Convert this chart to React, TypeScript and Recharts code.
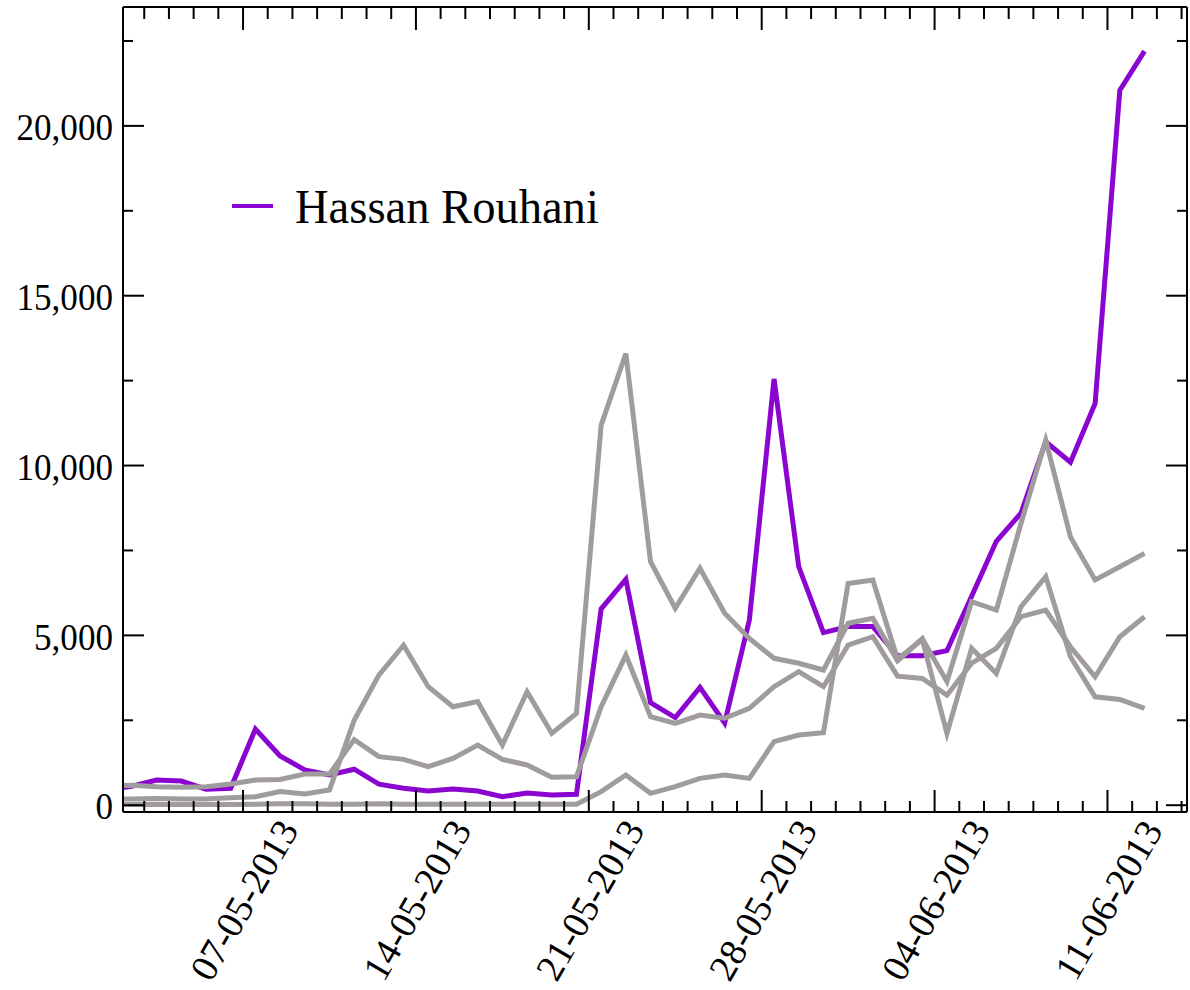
import React from 'react';
import { LineChart, Line, XAxis, YAxis } from 'recharts';

// one value per day, 01-05-2013 .. 12-06-2013
const dates = [
  '01-05-2013', '02-05-2013', '03-05-2013', '04-05-2013', '05-05-2013', '06-05-2013', '07-05-2013',
  '08-05-2013', '09-05-2013', '10-05-2013', '11-05-2013', '12-05-2013', '13-05-2013', '14-05-2013',
  '15-05-2013', '16-05-2013', '17-05-2013', '18-05-2013', '19-05-2013', '20-05-2013', '21-05-2013',
  '22-05-2013', '23-05-2013', '24-05-2013', '25-05-2013', '26-05-2013', '27-05-2013', '28-05-2013',
  '29-05-2013', '30-05-2013', '31-05-2013', '01-06-2013', '02-06-2013', '03-06-2013', '04-06-2013',
  '05-06-2013', '06-06-2013', '07-06-2013', '08-06-2013', '09-06-2013', '10-06-2013', '11-06-2013',
  '12-06-2013',
];

const rouhani = [
  450, 560, 740, 710, 470, 500, 2240, 1450, 1040, 890, 1060, 620, 500, 420,
  480, 420, 250, 360, 300, 320, 5780, 6650, 3020, 2580, 3470, 2420, 5450, 12550,
  7020, 5080, 5260, 5260, 4400, 4400, 4550, 6150, 7770, 8600, 10700, 10100, 11830, 21050,
  22200,
];

// the other candidates, drawn in grey, not named in the legend
const otherA = [
  180, 180, 200, 180, 180, 220, 250, 400, 330, 450, 2500, 3830, 4710, 3490,
  2900, 3050, 1770, 3340, 2115, 2700, 11190, 13300, 7170, 5800, 6975, 5650, 4910, 4325,
  4180, 3980, 5355, 5500, 4250, 4900, 3640, 5990, 5745, 8300, 10750, 7900, 6630, 7020,
  7415,
];
const otherB = [
  560, 590, 545, 530, 545, 625, 740, 760, 920, 920, 1930, 1430, 1350, 1135,
  1380, 1770, 1350, 1185, 820, 840, 2900, 4420, 2605, 2410, 2655, 2560, 2850, 3490,
  3930, 3490, 4715, 4960, 3800, 3730, 3240, 4180, 4620, 5550, 5745, 4665, 3780, 4960,
  5550,
];
const otherC = [
  20, 20, 20, 20, 20, 20, 30, 40, 40, 30, 30, 40, 30, 30,
  30, 30, 30, 30, 30, 30, 400, 890, 350, 545, 790, 890, 790, 1870,
  2065, 2135, 6530, 6630, 4300, 4880, 2115, 4620, 3880, 5845, 6730, 4370, 3190, 3115,
  2850,
];

const majorLabels = ['07-05-2013', '14-05-2013', '21-05-2013', '28-05-2013', '04-06-2013', '11-06-2013'];
const yTicks = [0, 2500, 5000, 7500, 10000, 12500, 15000, 17500, 20000, 22500];

const PURPLE = '#8a06d0';
const GREY = '#a09b9d';
const FONT = "'Liberation Serif', 'DejaVu Serif', serif";

// days since 01-05-2013 00:00
const dayNum = (s: string) => {
  const [dd, mm, yy] = s.split('-').map(Number);
  return (Date.UTC(yy, mm - 1, dd) - Date.UTC(2013, 4, 1)) / 86400000;
};

const data = dates.map((d, i) => ({
  t: dayNum(d) + 0.5,
  rouhani: rouhani[i],
  otherA: otherA[i],
  otherB: otherB[i],
  otherC: otherC[i],
}));

const xDomain = [1.14, 44.22];
const xTicks: number[] = [];
for (let d = 2; d <= 44; d++) xTicks.push(d);

const labelFor = (v: number) => majorLabels.find((l) => dayNum(l) === v);

const BottomTick = (props: any) => {
  const { x, y, payload } = props;
  const label = labelFor(payload.value);
  return (
    <g>
      <line x1={x} x2={x} y1={y} y2={y - (label ? 22 : 11)} stroke="#000" strokeWidth={2} />
      {label && (
        <text
          transform={`translate(${x + 1},${y + 88}) rotate(-60)`}
          textAnchor="middle"
          dominantBaseline="central"
          fontSize={38}
          fontFamily={FONT}
          fill="#000"
        >
          {label}
        </text>
      )}
    </g>
  );
};

const TopTick = (props: any) => {
  const { x, y, payload } = props;
  const major = !!labelFor(payload.value);
  return <line x1={x} x2={x} y1={y} y2={y + (major ? 23 : 12)} stroke="#000" strokeWidth={2} />;
};

const LeftTick = (props: any) => {
  const { x, y, payload } = props;
  const major = payload.value % 5000 === 0;
  return (
    <g>
      <line x1={x} x2={x + (major ? 21 : 10)} y1={y} y2={y} stroke="#000" strokeWidth={2} />
      {major && (
        <text
          transform={`translate(${x - 10},${y + 1}) scale(0.9,1)`}
          textAnchor="end"
          dominantBaseline="central"
          fontSize={39}
          fontFamily={FONT}
          fill="#000"
        >
          {payload.value.toLocaleString('en-US')}
        </text>
      )}
    </g>
  );
};

const RightTick = (props: any) => {
  const { x, y, payload } = props;
  const major = payload.value % 5000 === 0;
  return <line x1={x} x2={x - (major ? 21 : 10)} y1={y} y2={y} stroke="#000" strokeWidth={2} />;
};

const frame = { stroke: '#000', strokeWidth: 2 };

export default function App() {
  return (
    <div style={{ position: 'absolute', left: 0, top: 0, width: 1190, height: 990, background: '#fff' }}>
      <LineChart width={1190} height={990} data={data} margin={{ top: 0, right: 0, bottom: 0, left: 0 }}>
        <XAxis
          dataKey="t"
          type="number"
          domain={xDomain}
          allowDataOverflow
          ticks={xTicks}
          interval={0}
          tick={BottomTick}
          tickLine={false}
          tickSize={0}
          tickMargin={0}
          axisLine={frame}
          height={178}
        />
        <XAxis
          xAxisId="top"
          orientation="top"
          dataKey="t"
          type="number"
          domain={xDomain}
          allowDataOverflow
          ticks={xTicks}
          interval={0}
          tick={TopTick}
          tickLine={false}
          tickSize={0}
          tickMargin={0}
          axisLine={frame}
          height={7}
        />
        <YAxis
          type="number"
          domain={[-200, 23500]}
          allowDataOverflow
          ticks={yTicks}
          interval={0}
          tick={LeftTick}
          tickLine={false}
          tickSize={0}
          tickMargin={0}
          axisLine={frame}
          width={123}
        />
        <YAxis
          yAxisId="right"
          orientation="right"
          type="number"
          domain={[-200, 23500]}
          allowDataOverflow
          ticks={yTicks}
          interval={0}
          tick={RightTick}
          tickLine={false}
          tickSize={0}
          tickMargin={0}
          axisLine={frame}
          width={3}
        />
        <Line dataKey="rouhani" name="Hassan Rouhani" stroke={PURPLE} strokeWidth={5} dot={false} isAnimationActive={false} />
        <Line dataKey="otherA" stroke={GREY} strokeWidth={5} dot={false} isAnimationActive={false} />
        <Line dataKey="otherB" stroke={GREY} strokeWidth={5} dot={false} isAnimationActive={false} />
        <Line dataKey="otherC" stroke={GREY} strokeWidth={5} dot={false} isAnimationActive={false} />
      </LineChart>

      {/* legend: only the highlighted candidate */}
      <svg style={{ position: 'absolute', left: 232, top: 203 }} width={41} height={6}>
        <line x1={0} x2={41} y1={3} y2={3} stroke={PURPLE} strokeWidth={4} />
      </svg>
      <span
        style={{
          position: 'absolute',
          left: 295,
          top: 182,
          fontFamily: FONT,
          fontSize: 49,
          lineHeight: 1,
          whiteSpace: 'nowrap',
          transform: 'scaleX(0.95)',
          transformOrigin: 'left top',
        }}
      >
        Hassan Rouhani
      </span>
    </div>
  );
}
